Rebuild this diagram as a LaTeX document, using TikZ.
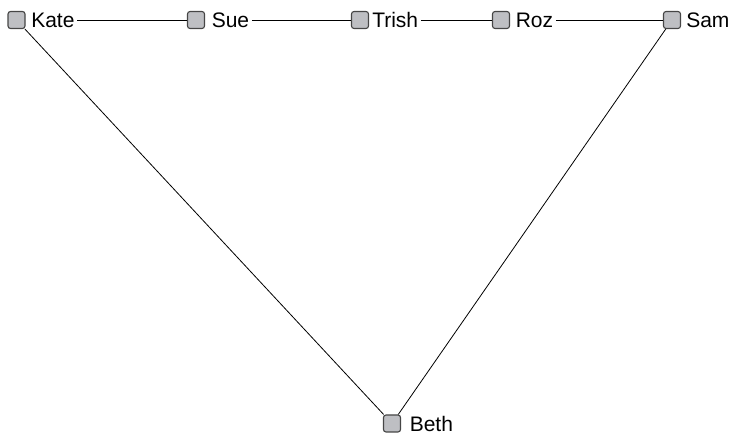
\documentclass[tikz,border=0pt]{standalone}
\usepackage{fontspec}
\setmainfont{Liberation Sans}
\definecolor{boxfill}{RGB}{190,191,195}
\definecolor{boxdraw}{RGB}{70,70,70}
\begin{document}
\begin{tikzpicture}[x=1pt,y=-1pt,
  person/.style={draw=boxdraw,fill=boxfill,line width=1.1pt,rounded corners=2.5pt,minimum size=17pt,inner sep=0pt},
  personlabel/.style={anchor=west,inner sep=2.5pt,font=\fontsize{21}{25}\selectfont},
  link/.style={draw=black,line width=0.8pt}]
\useasboundingbox (0,0) rectangle (731,435);
\node[person] (kate) at (16.5,20) {};
\node[person] (sue) at (196,20) {};
\node[person] (trish) at (360,20) {};
\node[person] (roz) at (501,20) {};
\node[person] (sam) at (672,20) {};
\node[person] (beth) at (392,423.5) {};
\node[personlabel] (katel) at ([xshift=3pt]kate.east) {Kate};
\node[personlabel] (suel) at ([xshift=4pt]sue.east) {Sue};
\node[personlabel] (trishl) at ([xshift=0.5pt]trish.east) {Trish};
\node[personlabel] (rozl) at ([xshift=3pt]roz.east) {Roz};
\node[personlabel] (saml) at ([xshift=2.5pt]sam.east) {Sam};
\node[personlabel] (bethl) at ([xshift=6pt]beth.east) {Beth};
\draw[link] (katel.east |- kate.east) -- (sue.west);
\draw[link] (suel.east |- sue.east) -- (trish.west);
\draw[link] (trishl.east |- trish.east) -- (roz.west);
\draw[link] (rozl.east |- roz.east) -- (sam.west);
\draw[link] (kate) -- (beth);
\draw[link] (sam) -- (beth);
\end{tikzpicture}
\end{document}
